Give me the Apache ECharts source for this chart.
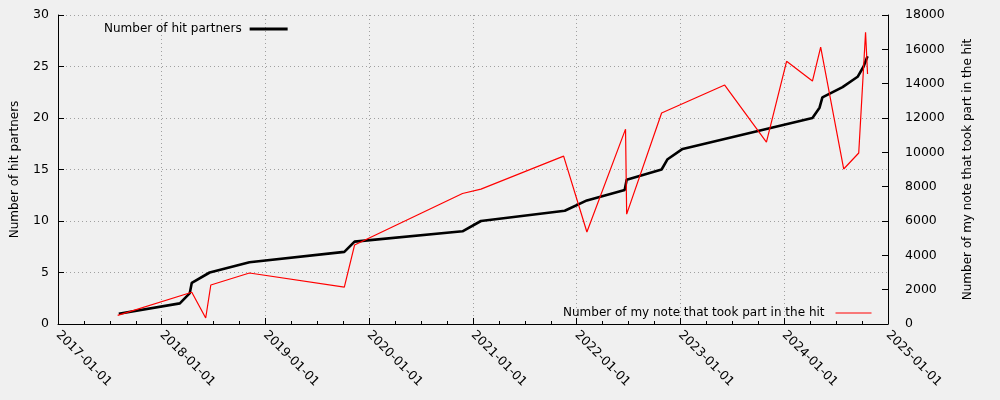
<!DOCTYPE html>
<html>
<head>
<meta charset="utf-8">
<script src="https://cdn.jsdelivr.net/npm/echarts@6/dist/echarts.min.js"></script>
<style>
html,body{margin:0;padding:0;background:#f0f0f0;}
#c{width:1000px;height:400px;}
</style>
</head>
<body>
<div id="c"></div>
<script>
// Number of hit partners (left axis)
const partnerDates = ['2017-08-03','2018-03-06','2018-04-10','2018-04-17','2018-06-19','2018-11-06',
  '2019-10-06','2019-11-11','2020-11-25','2021-01-29','2021-11-20','2022-02-06','2022-06-19',
  '2022-06-26','2022-10-27','2022-11-17','2023-01-09','2024-04-10','2024-05-05','2024-05-15',
  '2024-07-25','2024-09-16','2024-10-07','2024-10-21'];
const partnerValues = [1,2,3,4,5,6,7,8,9,10,11,12,13,14,15,16,17,20,21,22,23,24,25,26];

// Number of my note that took part in the hit (right axis)
const noteDates = ['2017-07-30','2018-04-17','2018-06-05','2018-06-23','2018-11-06','2019-10-06',
  '2019-11-11','2020-11-25','2021-01-29','2021-11-16','2022-02-06','2022-06-22','2022-06-26',
  '2022-10-27','2023-06-06','2023-10-31','2024-01-10','2024-04-10','2024-05-09','2024-05-15',
  '2024-07-29','2024-09-20','2024-10-14','2024-10-21'];
const noteValues = [500,1850,350,2270,2970,2150,4600,7600,7860,9780,5360,11350,6400,12290,13920,
  10600,15300,14150,16130,16130,9030,9960,17000,14560];

const seriesNames = ['Number of hit partners','Number of my note that took part in the hit'];
const xMin = '2017-01-01', xMax = '2025-01-01';

const font = 'DejaVu Sans';
const chart = echarts.init(document.getElementById('c'), null, {renderer:'canvas'});
const YEAR = 365.25*24*3600*1000;
chart.setOption({
  backgroundColor:'#f0f0f0',
  animation:false,
  textStyle:{fontFamily:font},
  grid:{left:58,right:112,top:15,bottom:76},
  legend:[
    {data:[seriesNames[0]],left:99,top:18,align:'right',itemWidth:38,itemHeight:3,
     icon:'rect',itemStyle:{color:'#000'},textStyle:{fontFamily:font,fontSize:12,color:'#000',padding:[0,3,0,0]}},
    {data:[seriesNames[1]],left:558,top:302,align:'right',itemWidth:36,itemHeight:1,
     icon:'rect',itemStyle:{color:'#ff0000'},textStyle:{fontFamily:font,fontSize:12,color:'#000',padding:[0,6,0,0]}}
  ],
  xAxis:{
    type:'time',min:xMin,max:xMax,
    minInterval:YEAR*0.99, maxInterval:YEAR*1.01,
    axisLine:{show:true,lineStyle:{color:'#000',width:1}},
    axisTick:{show:true,inside:true,length:6,lineStyle:{color:'#000'}},
    minorTick:{show:true,splitNumber:4,length:3,lineStyle:{color:'#000'}},
    axisLabel:{rotate:-45,margin:9,color:'#000',fontSize:12.5,fontFamily:font,
      formatter:'{yyyy}-{MM}-{dd}',hideOverlap:false,showMinLabel:true,showMaxLabel:true},
    splitLine:{show:true,lineStyle:{color:'#a0a0a0',type:[1,3],width:1}}
  },
  yAxis:[
    {type:'value',min:0,max:30,interval:5,position:'left',
     name:'Number of hit partners',nameLocation:'middle',nameGap:37,
     nameTextStyle:{fontFamily:font,fontSize:12,color:'#000'},
     axisLine:{show:true,lineStyle:{color:'#000'}},
     axisTick:{show:true,inside:true,length:6,lineStyle:{color:'#000'}},
     axisLabel:{color:'#000',fontSize:12.5,fontFamily:font,margin:9},
     splitLine:{show:true,lineStyle:{color:'#a0a0a0',type:[1,3],width:1}}},
    {type:'value',min:0,max:18000,interval:2000,position:'right',
     name:'Number of my note that took part in the hit',nameLocation:'middle',nameGap:74,
     nameTextStyle:{fontFamily:font,fontSize:12,color:'#000'},
     axisLine:{show:true,lineStyle:{color:'#000'}},
     axisTick:{show:true,inside:true,length:6,lineStyle:{color:'#000'}},
     axisLabel:{color:'#000',fontSize:12.5,fontFamily:font,margin:17,formatter:v=>String(v)},
     splitLine:{show:false}}
  ],
  series:[
    {name:seriesNames[0],type:'line',yAxisIndex:0,showSymbol:false,symbol:'none',
     lineStyle:{color:'#000',width:2.6},itemStyle:{color:'#000'},
     data:partnerDates.map((d,i)=>[d,partnerValues[i]])},
    {name:seriesNames[1],type:'line',yAxisIndex:1,showSymbol:false,symbol:'none',
     lineStyle:{color:'#ff0000',width:1.2},itemStyle:{color:'#ff0000'},
     data:noteDates.map((d,i)=>[d,noteValues[i]])}
  ]
});
</script>
</body>
</html>
